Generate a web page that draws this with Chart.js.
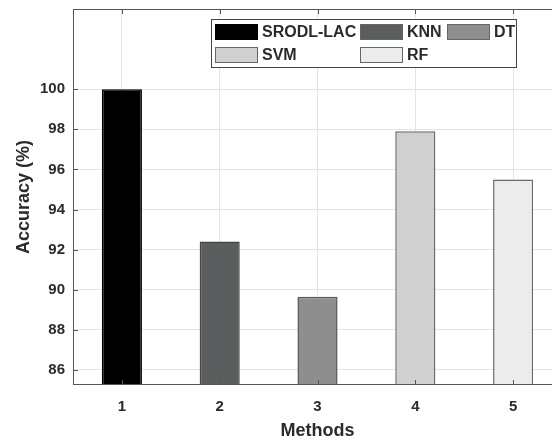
<!DOCTYPE html>
<html>
<head>
<meta charset="utf-8">
<script src="https://cdn.jsdelivr.net/npm/chart.js@4"></script>
<style>
  html, body { margin: 0; padding: 0; background: #fff; overflow: hidden; }
  #wrap { width: 562px; height: 445px; }
</style>
</head>
<body>
<div id="wrap"><canvas id="myChart" width="562" height="445"></canvas></div>
<script>
// categories on the x axis
var methods = ["1", "2", "3", "4", "5"];
// one series per method
var seriesNames = ["SRODL-LAC", "KNN", "DT", "SVM", "RF"];
var accuracy = [100, 92.4, 89.65, 97.9, 95.5];
// y tick labels
var yTicks = [86, 88, 90, 92, 94, 96, 98, 100];

var fills = ["#000000", "#5a5e5e", "#8e8e8e", "#d0d0d0", "#ececec"];
var edges = ["#000000", "#444444", "#555555", "#6a6a6a", "#6a6a6a"];

var FONT = "'Liberation Sans', Arial, sans-serif";
var TEXT = "#2b2b2b";

// each series only has a bar at its own method
var datasets = [];
for (var i = 0; i < seriesNames.length; i++) {
	var data = [];
	for (var j = 0; j < methods.length; j++) {
		data.push(j === i ? accuracy[i] : null);
	}
	datasets.push({
		label: seriesNames[i],
		data: data,
		backgroundColor: fills[i],
		borderColor: edges[i],
		borderWidth: 1.5,
		borderSkipped: false,
		skipNull: true,
		barPercentage: 0.41,
		categoryPercentage: 1
	});
}

// axes box, inward tick marks and the boxed legend
var frame = {
	id: "frame",
	afterDraw: function(chart) {
		var c = chart.ctx, a = chart.chartArea;
		var xs = chart.scales.x, ys = chart.scales.y;
		c.save();
		c.strokeStyle = "#555";
		c.lineWidth = 1;
		c.strokeRect(a.left + 0.5, a.top + 0.5, a.right - a.left - 1, a.bottom - a.top - 1);

		c.beginPath();
		yTicks.forEach(function(v) {
			var y = Math.round(ys.getPixelForValue(v)) + 0.5;
			c.moveTo(a.left, y); c.lineTo(a.left + 5, y);
			c.moveTo(a.right, y); c.lineTo(a.right - 5, y);
		});
		methods.forEach(function(m, k) {
			var x = Math.round(xs.getPixelForValue(k)) + 0.5;
			c.moveTo(x, a.bottom); c.lineTo(x, a.bottom - 5);
			c.moveTo(x, a.top); c.lineTo(x, a.top + 5);
		});
		c.stroke();

		// legend
		var box = { x: 211, y: 19, w: 305, h: 48 };
		c.fillStyle = "#fff";
		c.fillRect(box.x, box.y, box.w, box.h);
		c.strokeStyle = "#444";
		c.strokeRect(box.x + 0.5, box.y + 0.5, box.w, box.h);

		var cols = [215, 360, 447];
		var rows = [24, 47];
		c.font = "bold 16px " + FONT;
		c.textBaseline = "middle";
		chart.data.datasets.forEach(function(ds, k) {
			var col = k < 3 ? k : k - 3;
			var row = k < 3 ? 0 : 1;
			var sx = cols[col], sy = rows[row];
			c.fillStyle = ds.backgroundColor;
			c.fillRect(sx, sy, 43, 16);
			c.strokeStyle = k === 0 ? "#000" : "#666";
			c.strokeRect(sx + 0.5, sy + 0.5, 42, 15);
			c.fillStyle = TEXT;
			c.fillText(ds.label, sx + 47, sy + 9);
		});
		c.restore();
	}
};

var ctx = document.getElementById("myChart").getContext("2d");
var chart = new Chart(ctx, {
	type: "bar",
	data: {
		labels: methods,
		datasets: datasets
	},
	options: {
		responsive: false,
		animation: false,
		layout: { padding: { top: 9, right: 0, left: 0, bottom: 0 } },
		plugins: {
			legend: { display: false },
			tooltip: { enabled: false }
		},
		scales: {
			x: {
				grid: { color: "#e4e4e4", offset: false, drawTicks: false },
				border: { display: false },
				ticks: {
					padding: 13,
					color: TEXT,
					font: { family: FONT, size: 15, weight: "bold" }
				},
				title: {
					display: true,
					text: "Methods",
					color: TEXT,
					padding: { top: 0, bottom: 3 },
					font: { family: FONT, size: 18, weight: "bold" }
				},
				afterFit: function(scale) {
					scale.height = 60;
					scale.paddingLeft = 0;
					scale.paddingRight = 0;
				}
			},
			y: {
				min: 85.25,
				max: 104,
				grid: { color: "#e4e4e4", drawTicks: false },
				border: { display: false },
				ticks: {
					padding: 8,
					color: TEXT,
					font: { family: FONT, size: 15, weight: "bold" }
				},
				afterBuildTicks: function(scale) {
					scale.ticks = yTicks.map(function(v) { return { value: v }; });
				},
				title: {
					display: true,
					text: "Accuracy (%)",
					color: TEXT,
					padding: { top: 13, bottom: 0 },
					font: { family: FONT, size: 18, weight: "bold" }
				},
				afterFit: function(scale) {
					scale.width = 73;
					scale.paddingTop = 0;
					scale.paddingBottom = 0;
				}
			}
		}
	},
	plugins: [frame]
});
</script>
</body>
</html>
